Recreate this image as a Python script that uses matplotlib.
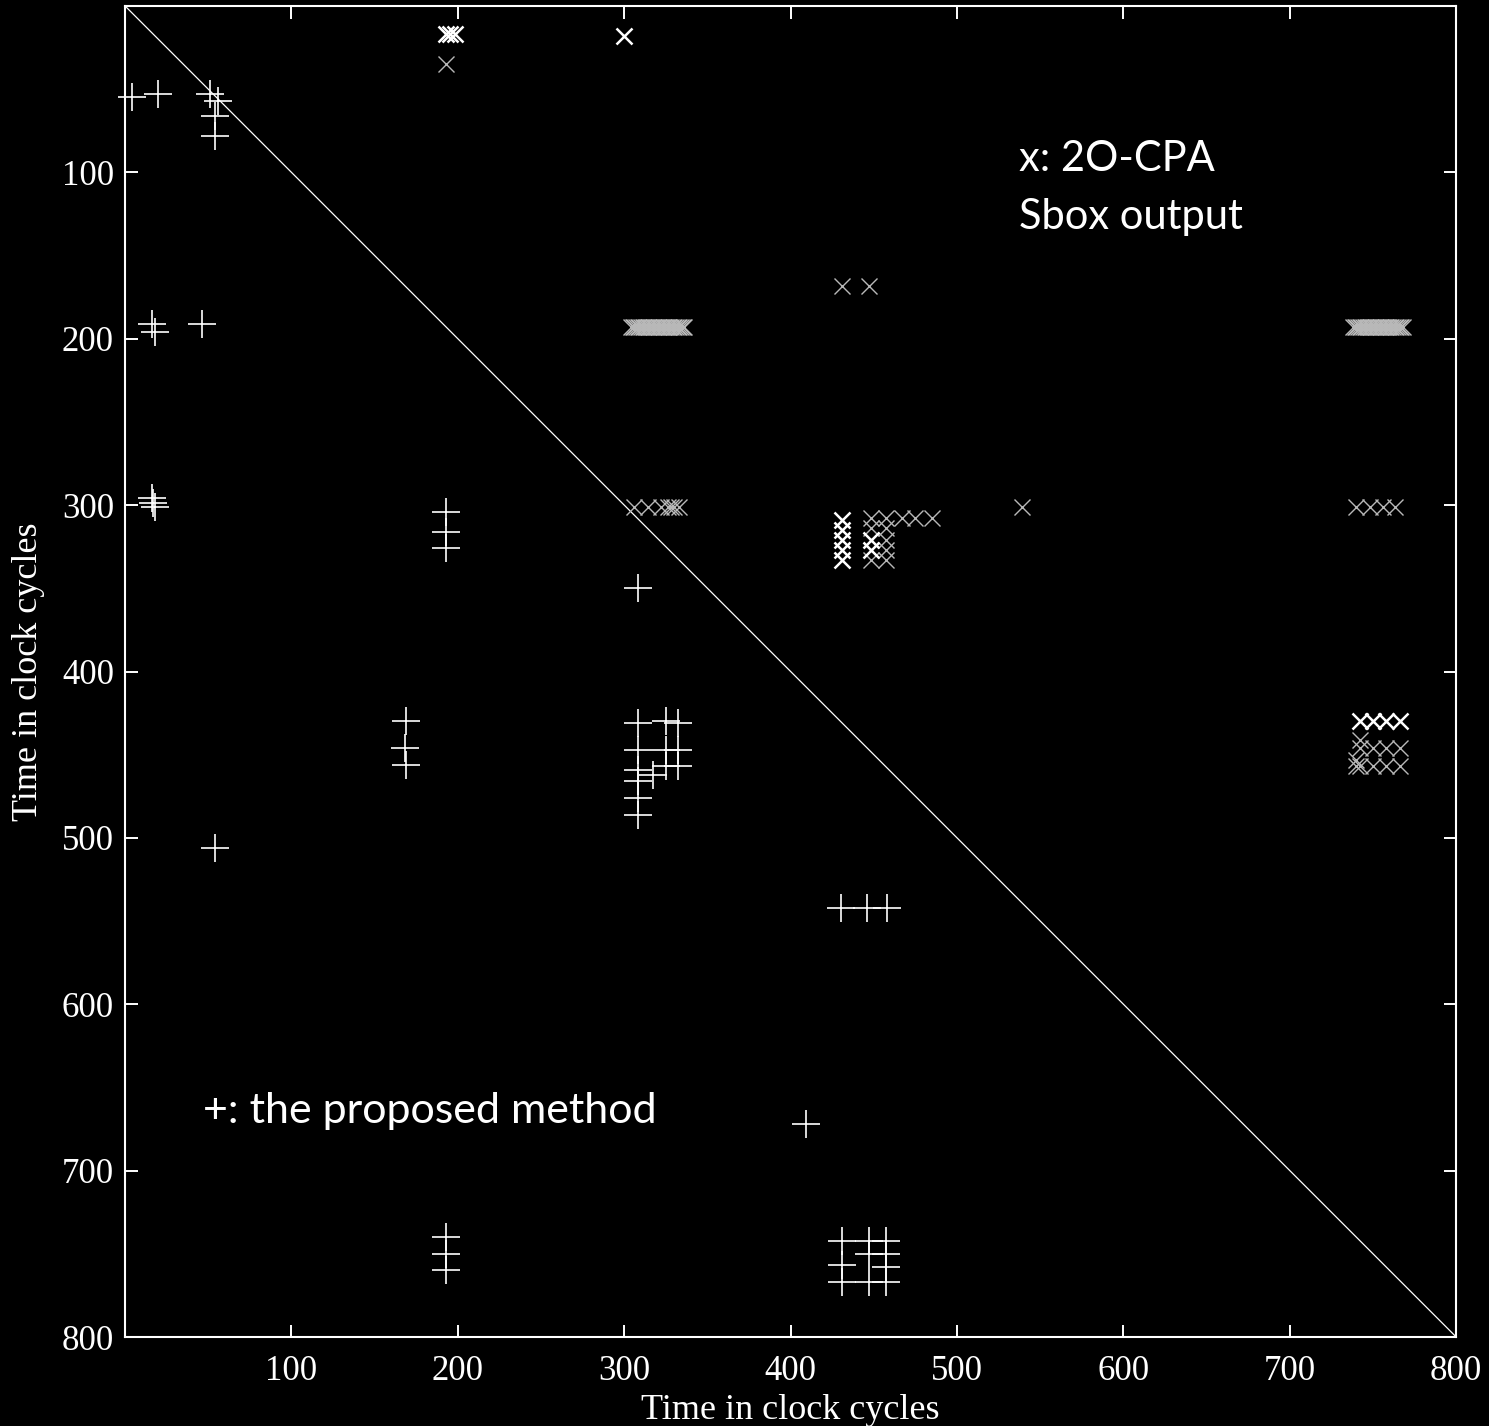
import matplotlib
matplotlib.use("Agg")
import matplotlib.pyplot as plt

# proposed method hits (+)
plus_x = [4, 20, 51, 56, 54, 54,
          16, 18, 46,
          16, 18, 17,
          54,
          169, 168, 169,
          193, 193, 193,
          308,
          308, 308, 308, 308, 308, 308, 317, 325, 325, 325, 332, 332, 332,
          430, 446, 458,
          409,
          193, 193, 193,
          431, 431, 431, 447, 447, 447, 457, 457, 457, 457]
plus_y = [55, 53, 53, 57, 66, 78,
          191, 196, 191,
          296, 301, 299,
          506,
          430, 446, 456,
          304, 316, 326,
          350,
          431, 447, 459, 466, 476, 486, 462, 430, 447, 457, 431, 447, 457,
          542, 542, 542,
          672,
          740, 750, 760,
          742, 757, 767, 742, 750, 767, 742, 750, 758, 767]

# 2O-CPA hits (x), strong ones
cpa_strong_x = [193, 195, 198, 300,
                431, 431, 431, 431, 431, 448, 448,
                742, 750, 758, 766]
cpa_strong_y = [17, 17, 17, 18,
                309, 315, 321, 327, 333, 321, 327,
                430, 430, 430, 430]

# 2O-CPA hits (x), weaker ones
cpa_band_left = [304, 305, 306, 307, 308, 309, 310, 311, 312, 313, 314,
                 315, 316, 317, 318, 319, 320, 321, 322, 323, 324, 325,
                 326, 327, 328, 329, 330, 331, 332, 333, 334, 335, 336]
cpa_band_right = [738, 739, 740, 741, 742, 743, 744, 745, 746, 747, 748,
                  749, 750, 751, 752, 753, 754, 755, 756, 757, 758, 759,
                  760, 761, 762, 763, 764, 765, 766, 767, 768]
cpa_weak_x = [193, 431, 447,
              306, 314, 322, 326, 328, 330, 333,
              539,
              740, 748, 756, 763,
              448, 457, 467, 475, 485,
              448, 457, 448, 457, 457, 457,
              742, 750, 758, 766, 742, 740, 742, 750, 758, 766, 740]
cpa_weak_y = [35, 168, 168,
              301, 301, 301, 301, 301, 301, 301,
              301,
              301, 301, 301, 301,
              308, 308, 308, 308, 308,
              314, 314, 333, 333, 321, 327,
              446, 446, 446, 446, 441, 457, 457, 457, 457, 457, 453]
cpa_weak_x = cpa_weak_x + cpa_band_left + cpa_band_right
cpa_weak_y = cpa_weak_y + [193] * len(cpa_band_left) + [193] * len(cpa_band_right)

ticks = [100, 200, 300, 400, 500, 600, 700, 800]

fig = plt.figure(figsize=(14.89, 14.26), dpi=100, facecolor="black")
ax = fig.add_axes([0.084, 0.0624, 0.894, 0.9334], facecolor="black")

ax.plot([0, 800], [0, 800], color="white", lw=0.9)
ax.plot(cpa_weak_x, cpa_weak_y, ls="none", marker="x", ms=11, mew=1.0,
        color="#b8b8b8", clip_on=False)
ax.plot(cpa_strong_x, cpa_strong_y, ls="none", marker="x", ms=11, mew=1.8,
        color="white", clip_on=False)
ax.plot(plus_x, plus_y, ls="none", marker="+", ms=20, mew=1.2,
        color="white", clip_on=False)

ax.set_xlim(0, 800)
ax.set_ylim(800, 0)
ax.set_xticks(ticks)
ax.set_yticks(ticks)
for s in ax.spines.values():
    s.set_color("white")
    s.set_linewidth(1.5)
ax.tick_params(direction="in", length=9, width=1.4, colors="white",
               top=True, right=True, labelsize=25)
ax.tick_params(axis="x", pad=13)
ax.tick_params(axis="y", pad=8)
for lab in ax.get_xticklabels() + ax.get_yticklabels():
    lab.set_family("Liberation Serif")

ax.set_xlabel("Time in clock cycles", color="white", fontsize=26,
              family="Liberation Serif", labelpad=4)
ax.set_ylabel("Time in clock cycles", color="white", fontsize=26,
              family="Liberation Serif", labelpad=12)

ax.text(537, 92, "x: 2O-CPA", color="white", fontsize=30, family="Lato",
        va="center", ha="left")
ax.text(537, 127, "Sbox output", color="white", fontsize=30, family="Lato",
        va="center", ha="left")
ax.text(47, 664, "+: the proposed method", color="white", fontsize=31,
        family="Lato", va="center", ha="left")

fig.savefig("out.png", dpi=100, facecolor="black")
